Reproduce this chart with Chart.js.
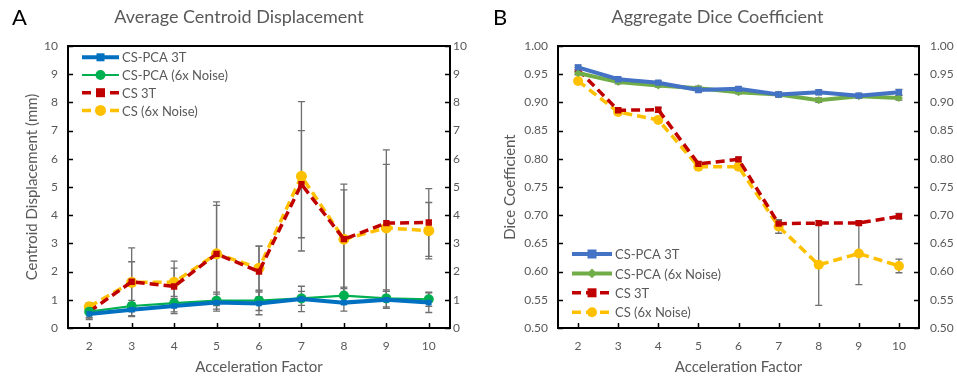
<!DOCTYPE html>
<html>
<head>
<meta charset="utf-8">
<script src="https://cdn.jsdelivr.net/npm/chart.js@4"></script>
<style>
  body { margin: 0; background: #fff; }
  #wrap { position: relative; width: 957px; height: 379px; }
  .panel { position: absolute; top: 0; }
  .tag { position: absolute; top: 3px; font: 22px Lato, sans-serif; color: #000; }
</style>
</head>
<body>
<div id="wrap">
  <canvas id="chartA" class="panel" width="478" height="379" style="left:0"></canvas>
  <canvas id="chartB" class="panel" width="479" height="379" style="left:478px"></canvas>
  <div class="tag" style="left:12px">A</div>
  <div class="tag" style="left:493px">B</div>
</div>
<script>
const factors = ['2', '3', '4', '5', '6', '7', '8', '9', '10'];
const seriesNames = ['CS-PCA 3T', 'CS-PCA (6x Noise)', 'CS 3T', 'CS (6x Noise)'];

// A: average centroid displacement (mm)
const dispPca3T = [0.50, 0.65, 0.78, 0.90, 0.87, 1.03, 0.90, 1.00, 0.90];
const dispPcaNoise = [0.58, 0.78, 0.88, 0.97, 0.97, 1.05, 1.15, 1.05, 1.02];
const dispCs3T = [0.58, 1.64, 1.47, 2.63, 2.00, 5.10, 3.15, 3.72, 3.74];
const dispCsNoise = [0.75, 1.62, 1.62, 2.63, 2.12, 5.38, 3.15, 3.55, 3.45];
const dispPca3TErr = [0.15, 0.25, 0.27, 0.30, 0.40, 0.45, 0.30, 0.30, 0.35];
const dispPcaNoiseErr = [0.20, 0.20, 0.15, 0.30, 0.35, 0.25, 0.30, 0.30, 0.25];
const dispCs3TErr = [0.28, 1.20, 0.90, 1.84, 0.90, 1.90, 1.95, 2.60, 1.20];
const dispCsNoiseErr = [0.15, 0.73, 0.50, 1.72, 0.78, 2.65, 1.75, 2.25, 1.00];

// B: aggregate dice coefficient
const dicePca3T = [0.962, 0.941, 0.935, 0.922, 0.924, 0.914, 0.918, 0.912, 0.918];
const dicePcaNoise = [0.952, 0.936, 0.930, 0.925, 0.918, 0.914, 0.904, 0.911, 0.908];
const diceCs3T = [0.958, 0.886, 0.887, 0.791, 0.799, 0.685, 0.686, 0.686, 0.698];
const diceCsNoise = [0.938, 0.883, 0.869, 0.786, 0.786, 0.680, 0.612, 0.632, 0.610];
const dicePca3TErr = [0.004, 0.003, 0.003, 0.004, 0.004, 0.004, 0.004, 0.004, 0.005];
const dicePcaNoiseErr = [0.003, 0.003, 0.003, 0.004, 0.003, 0.004, 0.004, 0.004, 0.004];
const diceCs3TErr = [0.004, 0.004, 0.004, 0.004, 0.004, 0.006, 0.004, 0.004, 0.005];
const diceCsNoiseErr = [0.004, 0.004, 0.004, 0.006, 0.004, 0.012, 0.072, 0.055, 0.012];

const FONT = 'Lato, "Open Sans", sans-serif';
const GREY = '#595959';

function drawMarker(ctx, style, x, y, r, color) {
  ctx.fillStyle = color;
  ctx.beginPath();
  if (style === 'rect') {
    ctx.rect(x - r, y - r, 2 * r, 2 * r);
  } else if (style === 'rectRot') {
    ctx.moveTo(x, y - r * 1.2); ctx.lineTo(x + r * 1.2, y); ctx.lineTo(x, y + r * 1.2); ctx.lineTo(x - r * 1.2, y);
    ctx.closePath();
  } else {
    ctx.arc(x, y, r, 0, Math.PI * 2);
  }
  ctx.fill();
}

const errorBars = {
  id: 'errorBars',
  beforeDatasetsDraw(chart, args, opts) {
    const { ctx } = chart;
    const xs = chart.scales.x, ys = chart.scales.y;
    ctx.save();
    ctx.strokeStyle = '#6f6f6f';
    ctx.lineWidth = 1.3;
    chart.data.datasets.forEach((ds, i) => {
      const err = opts.errors[i];
      ds.data.forEach((v, j) => {
        const px = xs.getPixelForValue(j);
        const top = ys.getPixelForValue(v + err[j]);
        const bot = ys.getPixelForValue(v - err[j]);
        ctx.beginPath();
        ctx.moveTo(px, top); ctx.lineTo(px, bot);
        ctx.moveTo(px - 3.5, top); ctx.lineTo(px + 3.5, top);
        ctx.moveTo(px - 3.5, bot); ctx.lineTo(px + 3.5, bot);
        ctx.stroke();
      });
    });
    ctx.restore();
  }
};

// black box round the plot with inward tick marks, like the original
const frame = {
  id: 'frame',
  afterDatasetsDraw(chart) {
    const { ctx, chartArea: a } = chart;
    ctx.save();
    ctx.strokeStyle = '#000';
    ctx.lineWidth = 1.5;
    ctx.beginPath();
    chart.scales.y.ticks.forEach(t => {
      const py = Math.round(chart.scales.y.getPixelForValue(t.value)) + 0.5;
      ctx.moveTo(a.left, py); ctx.lineTo(a.left + 5, py);
      ctx.moveTo(a.right, py); ctx.lineTo(a.right - 5, py);
    });
    chart.scales.x.ticks.forEach((t, i) => {
      const px = Math.round(chart.scales.x.getPixelForValue(i)) + 0.5;
      ctx.moveTo(px, a.bottom); ctx.lineTo(px, a.bottom - 5);
    });
    ctx.stroke();
    ctx.lineWidth = 2;
    ctx.strokeRect(a.left, a.top, a.right - a.left, a.bottom - a.top);
    ctx.restore();
  }
};

const lineLegend = {
  id: 'lineLegend',
  afterDraw(chart, args, opts) {
    const { ctx, chartArea: a } = chart;
    ctx.save();
    ctx.font = '13px ' + FONT;
    ctx.textBaseline = 'middle';
    chart.data.datasets.forEach((ds, i) => {
      const y = a.top + opts.top + i * opts.step;
      const x0 = a.left + 14, x1 = x0 + opts.len;
      ctx.strokeStyle = ds.borderColor;
      ctx.lineWidth = ds.borderWidth;
      ctx.setLineDash(ds.borderDash || []);
      ctx.beginPath(); ctx.moveTo(x0, y); ctx.lineTo(x1, y); ctx.stroke();
      ctx.setLineDash([]);
      drawMarker(ctx, ds.pointStyle, (x0 + x1) / 2, y, ds.pointRadius, ds.pointBackgroundColor);
      ctx.fillStyle = GREY;
      ctx.fillText(ds.label, x1 + 3, y + 1);
    });
    ctx.restore();
  }
};

function makeDatasets(values, styles) {
  return values.map((data, i) => Object.assign({
    label: seriesNames[i],
    data: data,
    yAxisID: 'y',
    pointBorderWidth: 0
  }, styles[i]));
}

function buildChart(id, cfg) {
  return new Chart(document.getElementById(id), {
    type: 'line',
    data: { labels: factors, datasets: makeDatasets(cfg.values, cfg.styles) },
    plugins: [errorBars, frame, lineLegend],
    options: {
      responsive: false,
      animation: false,
      layout: { padding: 0 },
      plugins: {
        legend: { display: false },
        tooltip: { enabled: false },
        title: {
          display: true,
          text: cfg.title,
          color: GREY,
          font: { family: FONT, size: 18, weight: 'normal' },
          padding: { top: 6, bottom: 18.4 }
        },
        errorBars: { errors: cfg.errors },
        lineLegend: cfg.legend
      },
      scales: {
        x: {
          offset: true,
          grid: { display: false, drawTicks: false },
          border: { display: false },
          ticks: { color: GREY, font: { family: FONT, size: 12 }, padding: 11 },
          title: {
            display: true, text: 'Acceleration Factor', color: GREY,
            font: { family: FONT, size: 15 }, padding: { top: 0, bottom: 3 }
          },
          afterFit: s => { s.height = 51; }
        },
        y: {
          position: 'left',
          min: cfg.min, max: cfg.max,
          grid: { display: false, drawTicks: false },
          border: { display: false },
          ticks: { stepSize: cfg.step, color: GREY, font: { family: FONT, size: 12 }, padding: cfg.leftPad, callback: cfg.fmt },
          title: {
            display: true, text: cfg.yTitle, color: GREY,
            font: { family: FONT, size: 15 }, padding: { top: 23, bottom: 0 }
          },
          afterFit: s => { s.width = cfg.leftW; }
        },
        y2: {
          position: 'right',
          min: cfg.min, max: cfg.max,
          grid: { display: false, drawTicks: false },
          border: { display: false },
          ticks: { stepSize: cfg.step, color: GREY, font: { family: FONT, size: 12 }, padding: cfg.rightPad, callback: cfg.fmt },
          afterFit: s => { s.width = cfg.rightW; }
        }
      }
    }
  });
}

buildChart('chartA', {
  title: 'Average Centroid Displacement',
  yTitle: 'Centroid Displacement (mm)',
  values: [dispPca3T, dispPcaNoise, dispCs3T, dispCsNoise],
  errors: [dispPca3TErr, dispPcaNoiseErr, dispCs3TErr, dispCsNoiseErr],
  min: 0, max: 10, step: 1,
  fmt: v => v,
  leftW: 68, rightW: 28, leftPad: 10, rightPad: 3,
  legend: { top: 11.3, step: 17.7, len: 37 },
  styles: [
    { borderColor: '#0070C0', borderWidth: 4, pointStyle: 'rect', pointRadius: 4, pointBackgroundColor: '#0070C0' },
    { borderColor: '#00B050', borderWidth: 2.2, pointStyle: 'circle', pointRadius: 5, pointBackgroundColor: '#00B050' },
    { borderColor: '#C00000', borderWidth: 3.5, borderDash: [9, 5], pointStyle: 'rect', pointRadius: 4.5, pointBackgroundColor: '#C00000' },
    { borderColor: '#FFC000', borderWidth: 3.5, borderDash: [9, 5], pointStyle: 'circle', pointRadius: 5.5, pointBackgroundColor: '#FFC000' }
  ]
});

buildChart('chartB', {
  title: 'Aggregate Dice Coefficient',
  yTitle: 'Dice Coefficient',
  values: [dicePca3T, dicePcaNoise, diceCs3T, diceCsNoise],
  errors: [dicePca3TErr, dicePcaNoiseErr, diceCs3TErr, diceCsNoiseErr],
  min: 0.5, max: 1.0, step: 0.05,
  fmt: v => v.toFixed(2),
  leftW: 80, rightW: 38, leftPad: 10, rightPad: 11,
  legend: { top: 208, step: 19.4, len: 40 },
  styles: [
    { borderColor: '#4472C4', borderWidth: 4, pointStyle: 'rect', pointRadius: 4.5, pointBackgroundColor: '#4472C4' },
    { borderColor: '#70AD47', borderWidth: 4, pointStyle: 'rectRot', pointRadius: 4, pointBackgroundColor: '#70AD47' },
    { borderColor: '#C00000', borderWidth: 3.5, borderDash: [9, 5], pointStyle: 'rect', pointRadius: 4.5, pointBackgroundColor: '#C00000' },
    { borderColor: '#FFC000', borderWidth: 3.5, borderDash: [9, 5], pointStyle: 'circle', pointRadius: 5, pointBackgroundColor: '#FFC000' }
  ]
});
</script>
</body>
</html>
